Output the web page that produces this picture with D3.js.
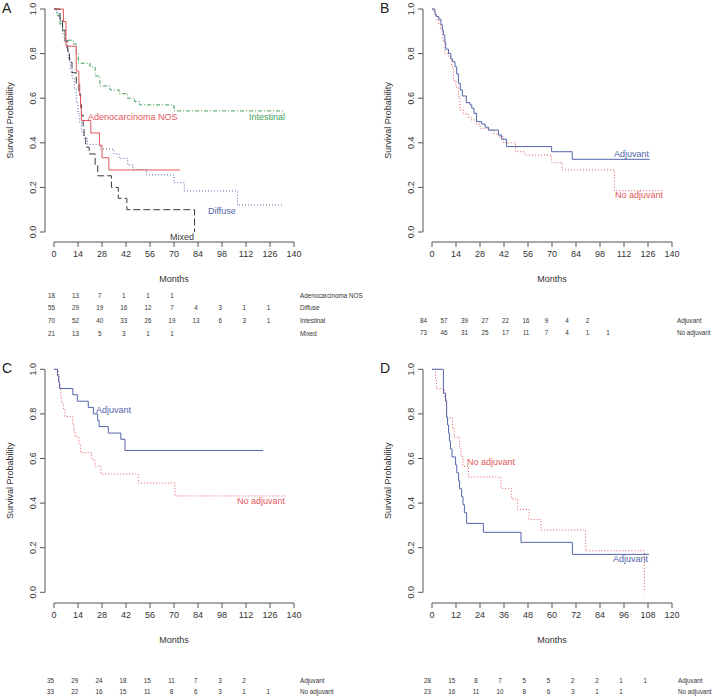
<!DOCTYPE html>
<html><head><meta charset="utf-8">
<script src="https://cdn.jsdelivr.net/npm/d3@7"></script>
<style>
body{margin:0;background:#fff;}
svg{display:block;font-family:"Liberation Sans",Arial,sans-serif;}
</style></head>
<body><svg id="c" width="715" height="698"></svg>
<script>
// ---------- DATA ----------
const yTicks = [0, 0.2, 0.4, 0.6, 0.8, 1.0];
const xTicks140 = [0,14,28,42,56,70,84,98,112,126,140];
const xTicks120 = [0,12,24,36,48,60,72,84,96,108,120];

// Panel A (step curves: [month, survival]; last point = end of follow-up)
const aIntestinal = [[0,1],[2,0.97],[3.5,0.93],[5,0.9],[6.4,0.86],[11.3,0.843],[13,0.8],[14.2,0.757],[21,0.74],[24,0.70],[26.8,0.655],[32.7,0.637],[38,0.62],[43,0.60],[47,0.585],[50,0.57],[70,0.543],[134.8,0.543]];
const aAdeno = [[0,1],[5.5,0.944],[7,0.833],[13,0.722],[14.5,0.667],[15,0.611],[15.5,0.556],[16,0.5],[21.5,0.444],[26.5,0.389],[28,0.333],[32,0.278],[73.5,0.278]];
const aDiffuse = [[0,1],[1.5,0.98],[3,0.96],[4,0.93],[5,0.89],[6,0.85],[7.5,0.82],[8.5,0.78],[9.5,0.73],[10.5,0.69],[12,0.64],[13,0.58],[14,0.53],[15,0.49],[16,0.45],[17.5,0.42],[19.5,0.393],[27,0.372],[35,0.35],[38,0.33],[43,0.30],[46,0.28],[54,0.256],[70,0.221],[76,0.184],[107,0.121],[133,0.121]];
const aMixed = [[0,1],[3.5,0.952],[5,0.905],[6.5,0.857],[8,0.81],[9,0.762],[10.5,0.714],[13,0.667],[14.5,0.619],[15.5,0.571],[16,0.524],[17,0.476],[17.5,0.429],[18.5,0.381],[20.5,0.35],[24,0.30],[25.5,0.252],[33.5,0.20],[37.5,0.151],[42.5,0.10],[82,0]];
const aSeriesNames = ["Adenocarcinoma NOS","Diffuse","Intestinal","Mixed"];
const aRisk = [[18,13,7,1,1,1],[55,29,19,16,12,7,4,3,1,1],[70,52,40,33,26,19,13,6,3,1],[21,13,5,3,1,1]];

// Panel B
const bAdjuvant = [[0,1],[1.7,0.976],[2.5,0.966],[4,0.954],[5.2,0.93],[6,0.905],[6.6,0.883],[7.5,0.85],[8,0.82],[9.6,0.80],[11,0.776],[12,0.764],[13.4,0.741],[14.4,0.709],[15.4,0.667],[16.5,0.637],[17.7,0.61],[20,0.58],[22.2,0.57],[23.2,0.555],[24.5,0.532],[26,0.495],[29,0.484],[31,0.47],[33,0.457],[38.8,0.435],[40.6,0.416],[43.5,0.383],[69.8,0.36],[81.8,0.326],[127,0.326]];
const bNoAdjuvant = [[0,1],[1,0.986],[2,0.97],[3,0.95],[4,0.93],[5,0.91],[6.3,0.86],[7.5,0.80],[9.6,0.786],[11.5,0.74],[12.5,0.68],[13.9,0.65],[15.4,0.607],[16.3,0.547],[18.3,0.53],[21,0.515],[23,0.502],[26,0.484],[28,0.465],[33,0.457],[36,0.44],[38.8,0.427],[41.6,0.40],[48.8,0.36],[54,0.345],[69.8,0.311],[76,0.278],[106.4,0.185],[135,0.185]];
const groupNames = ["Adjuvant","No adjuvant"];
const bRisk = [[84,57,39,27,22,16,9,4,2],[73,46,31,25,17,11,7,4,1,1]];

// Panel C
const cAdjuvant = [[0,1],[2,0.971],[2.7,0.943],[3.2,0.914],[11,0.886],[13.6,0.857],[20,0.829],[23,0.80],[25.5,0.771],[26.3,0.743],[31.7,0.714],[39,0.686],[41.4,0.636],[122,0.636]];
const cNoAdjuvant = [[0,1],[2.5,0.970],[3,0.939],[3.5,0.909],[4,0.879],[4.4,0.848],[5.5,0.818],[6.4,0.788],[10.9,0.758],[11.5,0.727],[12.3,0.697],[14.6,0.663],[15.5,0.626],[22,0.595],[23.9,0.566],[27.4,0.53],[49.2,0.49],[70.6,0.432],[135,0.432]];
const cRisk = [[35,29,24,18,15,11,7,3,2],[33,22,16,15,11,8,6,3,1,1]];

// Panel D
const dAdjuvant = [[0,1],[5.7,0.893],[6.8,0.857],[7.3,0.786],[7.8,0.75],[8.3,0.714],[8.7,0.679],[9.2,0.643],[10,0.607],[11.8,0.571],[12.4,0.536],[13.3,0.5],[13.8,0.464],[14.8,0.429],[15.5,0.393],[16.2,0.357],[17.3,0.309],[25.7,0.269],[44.5,0.224],[70.2,0.17],[108.5,0.17]];
const dNoAdjuvant = [[0,1],[1.8,0.957],[2.2,0.913],[6.2,0.87],[7.3,0.783],[10.2,0.739],[11,0.696],[13.8,0.652],[14.5,0.609],[15.5,0.565],[18.2,0.517],[34.5,0.466],[39.8,0.419],[42.8,0.372],[48.5,0.326],[54.5,0.279],[76.8,0.186],[106.2,0]];
const dRisk = [[28,15,8,7,5,5,2,2,1,1],[23,16,11,10,8,6,3,1,1]];

// ---------- STYLE ----------
const RED = "#e2575b", BLUE = "#5364aa", GREEN = "#449d58", BLACK = "#3a3a3a";
const AXIS = "#555";
const svg = d3.select("#c");

function panel(o) {
  const g = svg.append("g");
  const x = d3.scaleLinear().domain([0, o.xmax]).range([o.x0, o.x1]);
  const y = d3.scaleLinear().domain([0, 1]).range([o.yb, o.yt]);

  // y axis
  g.append("line").attr("x1", o.ax).attr("x2", o.ax).attr("y1", y(0)).attr("y2", y(1)).attr("stroke", AXIS);
  yTicks.forEach(v => {
    g.append("line").attr("x1", o.ax - 5).attr("x2", o.ax).attr("y1", y(v)).attr("y2", y(v)).attr("stroke", AXIS);
    g.append("text").attr("transform", `translate(${o.ax - 12},${y(v)}) rotate(-90)`)
      .attr("text-anchor", "middle").attr("dominant-baseline", "central")
      .attr("font-size", 9).attr("fill", "#333").text(v.toFixed(1));
  });
  g.append("text").attr("transform", `translate(${o.ax - 35},${(y(0) + y(1)) / 2}) rotate(-90)`)
    .attr("text-anchor", "middle").attr("dominant-baseline", "central")
    .attr("font-size", 9).attr("fill", "#333").text("Survival Probability");

  // x axis
  g.append("line").attr("x1", x(0)).attr("x2", x(o.xmax)).attr("y1", o.ay).attr("y2", o.ay).attr("stroke", AXIS);
  o.ticks.forEach(t => {
    g.append("line").attr("x1", x(t)).attr("x2", x(t)).attr("y1", o.ay).attr("y2", o.ay + 5).attr("stroke", AXIS);
    g.append("text").attr("x", x(t)).attr("y", o.ay + 12).attr("text-anchor", "middle")
      .attr("dominant-baseline", "central").attr("font-size", 9).attr("fill", "#333").text(t);
  });
  g.append("text").attr("x", (x(0) + x(o.xmax)) / 2).attr("y", o.ay + 37).attr("text-anchor", "middle")
    .attr("dominant-baseline", "central").attr("font-size", 9).attr("fill", "#333").text("Months");

  // panel letter
  g.append("text").attr("x", o.lx).attr("y", o.ly).attr("font-size", 14).attr("fill", "#222").text(o.letter);

  // curves
  const line = d3.line().x(d => x(d[0])).y(d => y(d[1])).curve(d3.curveStepAfter);
  o.series.forEach(s => {
    g.append("path").datum(s.data).attr("d", line).attr("fill", "none")
      .attr("stroke", s.color).attr("stroke-width", 1).attr("stroke-dasharray", s.dash || null);
  });
  o.labels.forEach(l => {
    g.append("text").attr("x", l.x).attr("y", l.y).attr("font-size", 9).attr("fill", l.color)
      .attr("dominant-baseline", "central").text(l.text);
  });

  // risk table
  const cx = d3.scaleLinear().domain([0, 1]).range([o.rx0, o.rx0 + o.rdx]);
  o.risk.forEach((row, i) => {
    const ry = o.ry0 + i * o.rdy;
    row.forEach((n, j) => {
      g.append("text").attr("x", cx(j)).attr("y", ry).attr("text-anchor", "middle")
        .attr("dominant-baseline", "central").attr("font-size", 6.3).attr("fill", "#333").text(n);
    });
    g.append("text").attr("x", o.rlx).attr("y", ry).attr("dominant-baseline", "central")
      .attr("font-size", 6.3).attr("fill", "#333").text(o.riskNames[i]);
  });
}

panel({letter: "A", lx: 2, ly: 13, xmax: 140, ticks: xTicks140, x0: 54, x1: 294, yt: 9, yb: 232, ax: 45, ay: 242,
  series: [
    {data: aIntestinal, color: GREEN, dash: "4,2,1,2"},
    {data: aDiffuse, color: BLUE, dash: "1,2"},
    {data: aMixed, color: BLACK, dash: "7,3"},
    {data: aAdeno, color: RED}
  ],
  labels: [
    {text: "Adenocarcinoma NOS", x: 88, y: 117, color: RED},
    {text: "Intestinal", x: 249, y: 117, color: GREEN},
    {text: "Diffuse", x: 208, y: 211, color: BLUE},
    {text: "Mixed", x: 170, y: 237, color: BLACK}
  ],
  risk: aRisk, riskNames: aSeriesNames, rx0: 51.5, rdx: 24.1, ry0: 295, rdy: 12.7, rlx: 300});

panel({letter: "B", lx: 380, ly: 13, xmax: 140, ticks: xTicks140, x0: 432, x1: 672, yt: 9, yb: 232, ax: 423, ay: 242,
  series: [
    {data: bNoAdjuvant, color: RED, dash: "1,2"},
    {data: bAdjuvant, color: BLUE}
  ],
  labels: [
    {text: "Adjuvant", x: 614, y: 154, color: BLUE},
    {text: "No adjuvant", x: 615, y: 195, color: RED}
  ],
  risk: bRisk, riskNames: groupNames, rx0: 423.5, rdx: 20.5, ry0: 320, rdy: 12, rlx: 677});

panel({letter: "C", lx: 2, ly: 373, xmax: 140, ticks: xTicks140, x0: 54, x1: 294, yt: 369.3, yb: 592.3, ax: 45, ay: 603,
  series: [
    {data: cNoAdjuvant, color: RED, dash: "1,2"},
    {data: cAdjuvant, color: BLUE}
  ],
  labels: [
    {text: "Adjuvant", x: 96, y: 409.5, color: BLUE},
    {text: "No adjuvant", x: 237, y: 500.5, color: RED}
  ],
  risk: cRisk, riskNames: groupNames, rx0: 50.5, rdx: 24.2, ry0: 680, rdy: 11.5, rlx: 300});

panel({letter: "D", lx: 380, ly: 373, xmax: 120, ticks: xTicks120, x0: 432, x1: 672, yt: 369.3, yb: 592.3, ax: 423, ay: 603,
  series: [
    {data: dNoAdjuvant, color: RED, dash: "1,2"},
    {data: dAdjuvant, color: BLUE}
  ],
  labels: [
    {text: "No adjuvant", x: 467, y: 461.5, color: RED},
    {text: "Adjuvant", x: 613, y: 559, color: BLUE}
  ],
  risk: dRisk, riskNames: groupNames, rx0: 427.5, rdx: 24.2, ry0: 680, rdy: 11.5, rlx: 678});
</script></body></html>
